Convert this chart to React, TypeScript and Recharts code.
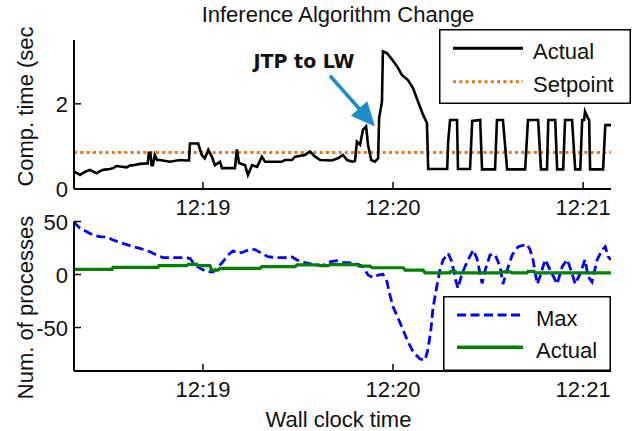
import React from 'react';
import { LineChart, Line, XAxis, YAxis, ReferenceLine, ReferenceDot, Legend } from 'recharts';

// ---------- data ----------
// time in seconds after 12:18:00
const timeTicks = [60, 120, 180];
const timeTickLabels = ['12:19', '12:20', '12:21'];
const timeDomain = [19.3, 188.8];

const compTicks = [0, 2];
const compDomain = [0, 3.5];
const setpointValue = 0.86;

const compTimes = [
  19.3, 20.5, 21.2, 22.7, 24.3, 26.4, 27.5, 28.5, 30.6, 31.7, 32.7, 35.9, 36.9, 38.0, 40.1, 42.2, 42.6, 42.9, 43.4, 43.8,
  44.2, 44.8, 45.5, 46.4, 49.6, 52.7, 54.8, 55.6, 55.9, 58.5, 59.6, 60.6, 61.7, 62.8, 63.8, 65.4, 66.0, 70.1, 70.7, 71.4,
  73.3, 74.2, 75.5, 77.1, 78.6, 79.6, 84.9, 85.9, 88.1, 89.1, 92.2, 93.8, 95.4, 97.0, 100.7, 102.6, 104.2, 105.5, 107.1, 108.0,
  108.6, 109.6, 110.5, 111.5, 112.1, 113.1, 114.3, 115.3, 115.6, 116.5, 116.8, 118.1, 119.7, 121.3, 122.8, 124.7, 126.3, 127.9, 129.5, 130.7,
  131.1, 137.1, 137.4, 138.0, 140.2, 140.5, 144.3, 145.0, 147.5, 148.1, 152.2, 152.8, 154.7, 156.0, 161.7, 162.6, 165.8, 166.7, 168.6, 169.0,
  171.2, 171.8, 173.7, 174.3, 176.5, 177.5, 179.1, 179.7, 180.3, 180.6, 181.3, 181.9, 182.2, 186.3, 187.0, 188.8,
];
const compActualValues = [
  0.41, 0.36, 0.33, 0.40, 0.45, 0.37, 0.42, 0.45, 0.47, 0.49, 0.54, 0.51, 0.55, 0.56, 0.59, 0.60, 0.60, 0.85, 0.85, 0.56,
  0.56, 0.80, 0.68, 0.68, 0.64, 0.68, 0.67, 0.67, 1.07, 1.07, 0.80, 0.72, 0.92, 0.76, 0.56, 0.64, 0.49, 0.49, 0.93, 0.61,
  0.56, 0.33, 0.56, 0.52, 0.76, 0.64, 0.64, 0.68, 0.68, 0.76, 0.80, 0.88, 0.76, 0.68, 0.67, 0.72, 0.80, 0.68, 0.64, 0.66,
  1.11, 1.04, 1.39, 1.47, 1.04, 0.68, 0.64, 0.72, 1.66, 2.05, 3.23, 3.19, 3.04, 2.88, 2.68, 2.56, 2.37, 2.05, 1.74, 1.55,
  0.47, 0.47, 1.11, 1.62, 1.62, 0.47, 0.47, 1.60, 1.62, 0.46, 0.46, 1.62, 1.62, 0.46, 0.46, 1.62, 1.62, 0.46, 0.46, 1.62,
  1.62, 0.46, 0.46, 1.62, 1.62, 0.46, 0.46, 1.62, 1.62, 1.82, 1.70, 1.62, 0.46, 0.46, 1.50, 1.50,
];

const procTicks = [-50, 0, 50];
const procDomain = [-91, 50];

const procMaxTimes = [
  19.3, 19.6, 21.2, 23.3, 25.3, 27.5, 29.6, 31.6, 34.7, 37.9, 40.1, 43.3, 45.4, 47.4, 53.7, 55.9, 57.5, 59.0, 61.2, 63.2,
  64.4, 66.3, 67.9, 69.5, 71.1, 72.6, 74.8, 76.4, 78.6, 80.5, 83.4, 85.9, 88.1, 89.7, 91.6, 94.4, 97.6, 100.1, 102.3, 104.2,
  106.4, 109.0, 110.5, 112.1, 113.7, 115.3, 116.8, 118.1, 119.0, 120.0, 121.6, 123.2, 124.7, 126.3, 128.5, 130.1, 131.1, 132.0, 132.6, 133.9,
  134.8, 135.8, 137.4, 138.6, 139.6, 140.5, 141.8, 143.4, 145.3, 146.5, 148.1, 149.1, 150.6, 152.2, 153.8, 154.7, 156.0, 157.6, 159.5, 162.3,
  163.3, 164.2, 165.5, 166.4, 168.0, 169.6, 171.8, 173.4, 175.0, 176.5, 177.5, 179.1, 180.6, 181.6, 182.8, 184.4, 186.0, 187.0, 187.9, 188.8,
];
const procMaxValues = [
  49.8, 48.3, 43.6, 40.4, 37.3, 35.7, 35.5, 32.5, 29.4, 26.2, 24.7, 21.5, 18.4, 15.9, 15.9, 15.3, 9.0, 6.0, 2.6, 2.6,
  5.8, 12.0, 18.4, 22.2, 20.0, 21.0, 23.8, 23.5, 20.0, 16.8, 15.9, 15.9, 16.5, 13.7, 11.5, 9.9, 8.3, 12.0, 13.0, 11.5,
  11.0, 9.6, 7.4, -0.5, -3.0, -0.5, 0.2, -6.8, -19.3, -30.4, -41.3, -52.4, -63.4, -72.8, -79.7, -80.7, -69.6, -50.8, -31.9, -9.9,
  4.2, 13.7, 20.0, 12.0, -3.6, -13.0, 1.1, 12.0, 23.1, 15.0, -8.3, 4.2, 18.4, 19.0, 7.4, -9.0, 4.0, 18.4, 26.2, 28.5,
  23.1, 13.7, -9.0, -2.0, 14.0, 4.2, -9.0, 7.4, 14.0, 1.1, -9.0, 1.0, 14.0, -2.0, -7.0, 13.7, 23.1, 26.2, 16.8, 14.0,
];

const procActualTimes = [
  19.3, 31.3, 31.6, 45.8, 46.1, 54.9, 55.3, 58.1, 58.4, 62.2, 62.8, 64.7, 65.4, 78.0, 78.6, 89.1, 89.7, 96.3, 97.0, 99.5,
  100.1, 108.6, 109.3, 112.7, 113.4, 123.2, 123.8, 129.5, 130.1, 138.0, 138.3, 139.6, 140.2, 153.8, 154.4, 157.0, 157.6, 162.3, 162.6, 164.5,
  164.8, 188.8,
];
const procActualValues = [
  4.9, 4.9, 6.8, 6.8, 8.3, 8.3, 9.6, 9.6, 8.3, 8.3, 4.2, 4.2, 5.8, 5.8, 7.4, 7.4, 9.0, 9.0, 8.3, 8.3,
  9.3, 9.3, 8.0, 8.0, 6.4, 6.4, 4.2, 4.2, 1.5, 1.5, 3.0, 3.0, 1.5, 1.5, 2.5, 2.5, 1.5, 1.5, 3.0, 3.0,
  1.5, 1.5,
];

// annotation (data coordinates)
const annotationText = 'JTP to LW';
const annotationTextPos = { t: 91.9, v: 2.85 };
const arrowFrom = { t: 100.1, v: 2.66 };
const arrowTo = { t: 114.3, v: 1.47 };

// ---------- style ----------
const FONT = '"Liberation Sans", Arial, Helvetica, sans-serif';
const FS = 22;
const TEXT = '#111';
const W = 641;
const H = 431;
const TICK = 7;
const BLACK = '#000000';
const ORANGE = '#E8751A';
const BLUE = '#0000FF';
const GREEN = '#008000';
const ARROW = '#1E8CC8';

const build = (times: number[], values: number[]) => times.map((t, i) => ({ t, v: values[i] }));
const compActualData = build(compTimes, compActualValues);
const setpointData = build(timeDomain, [setpointValue, setpointValue]);
const procMaxData = build(procMaxTimes, procMaxValues);
const procActualData = build(procActualTimes, procActualValues);

const fmtTime = (v: number) => {
  const i = timeTicks.indexOf(v);
  return i >= 0 ? timeTickLabels[i] : '';
};

const XBottomTick = (props: any) => {
  const { x, y, payload } = props;
  return (
    <g>
      <line x1={x} x2={x} y1={y} y2={y - TICK} stroke={BLACK} strokeWidth={1.5} />
      <text x={x} y={y + 25.5} textAnchor="middle" fontFamily={FONT} fontSize={FS} fill={TEXT}>
        {fmtTime(payload.value)}
      </text>
    </g>
  );
};
const XTopTick = (props: any) => {
  const { x, y } = props;
  return <line x1={x} x2={x} y1={y} y2={y + TICK} stroke={BLACK} strokeWidth={1.5} />;
};
const YLeftTick = (props: any) => {
  const { x, y, payload } = props;
  return (
    <g>
      <line x1={x} x2={x + TICK} y1={y} y2={y} stroke={BLACK} strokeWidth={1.5} />
      <text x={x - 6} y={y + 8} textAnchor="end" fontFamily={FONT} fontSize={FS} fill={TEXT}>
        {String(payload.value)}
      </text>
    </g>
  );
};
const YRightTick = (props: any) => {
  const { x, y } = props;
  return <line x1={x} x2={x - TICK} y1={y} y2={y} stroke={BLACK} strokeWidth={1.5} />;
};

const Arrow = (props: any) => {
  const { x1, y1, x2, y2 } = props;
  const dx = x2 - x1;
  const dy = y2 - y1;
  const len = Math.hypot(dx, dy) || 1;
  const ux = dx / len;
  const uy = dy / len;
  const headLen = 24;
  const headW = 11;
  const bx = x2 - ux * headLen;
  const by = y2 - uy * headLen;
  const px = -uy;
  const py = ux;
  return (
    <g>
      <line x1={x1} y1={y1} x2={bx + ux * 2} y2={by + uy * 2} stroke={ARROW} strokeWidth={3.5} />
      <polygon
        points={`${x2},${y2} ${bx + px * headW},${by + py * headW} ${bx - px * headW},${by - py * headW}`}
        fill={ARROW}
      />
    </g>
  );
};
const AnnotationText = (props: any) => {
  const { cx, cy } = props;
  return (
    <text x={cx} y={cy} textAnchor="middle" fontFamily='"DejaVu Sans", Verdana, sans-serif' fontWeight="bold" fontSize={19} fill={TEXT}>
      {annotationText}
    </text>
  );
};

type Item = { label: string; color: string; dash?: string; width: number };
const LegendBox = ({ w, h, items, x1, x2, tx, rows }: { w: number; h: number; items: Item[]; x1: number; x2: number; tx: number; rows: number[] }) => (
  <svg width={w} height={h} style={{ display: 'block' }}>
    <rect x={0.75} y={0.75} width={w - 1.5} height={h - 1.5} fill="#fff" stroke={BLACK} strokeWidth={1.5} />
    {items.map((it, i) => (
      <g key={it.label}>
        <line x1={x1} x2={x2} y1={rows[i]} y2={rows[i]} stroke={it.color} strokeWidth={it.width} strokeDasharray={it.dash} />
        <text x={tx} y={rows[i] + 10.5} fontFamily={FONT} fontSize={FS} fill={TEXT}>
          {it.label}
        </text>
      </g>
    ))}
  </svg>
);

const topItems: Item[] = [
  { label: 'Actual', color: BLACK, width: 3 },
  { label: 'Setpoint', color: ORANGE, dash: '3 3.3', width: 3 },
];
const bottomItems: Item[] = [
  { label: 'Max', color: BLUE, dash: '9 4.5', width: 3 },
  { label: 'Actual', color: GREEN, width: 3.5 },
];

const axisLine = { stroke: BLACK, strokeWidth: 2 };

export default function App() {
  return (
    <div style={{ position: 'absolute', left: 0, top: 0, width: W, height: H, background: '#fff' }}>
      <div style={{ position: 'absolute', left: 0, top: 0 }}>
        <LineChart width={W} height={H} margin={{ top: 40, right: 30, bottom: 216, left: 14 }}>
          <XAxis xAxisId={0} dataKey="t" type="number" domain={timeDomain} allowDataOverflow ticks={timeTicks} interval={0}
            tickSize={0} tickMargin={0} tickLine={false} axisLine={axisLine} tick={<XBottomTick />} height={26} />
          <XAxis xAxisId="top" orientation="top" dataKey="t" type="number" domain={timeDomain} allowDataOverflow ticks={timeTicks} interval={0}
            tickSize={0} tickMargin={0} tickLine={false} axisLine={axisLine} tick={<XTopTick />} height={0} />
          <YAxis yAxisId={0} type="number" domain={compDomain} allowDataOverflow ticks={compTicks} interval={0}
            tickSize={0} tickMargin={0} tickLine={false} axisLine={axisLine} tick={<YLeftTick />} width={60} />
          <YAxis yAxisId="right" orientation="right" type="number" domain={compDomain} allowDataOverflow ticks={compTicks} interval={0}
            tickSize={0} tickMargin={0} tickLine={false} axisLine={axisLine} tick={<YRightTick />} width={0} />
          <Line data={setpointData} dataKey="v" name="Setpoint" type="linear" dot={false} stroke={ORANGE} strokeWidth={3}
            strokeDasharray="3 3.3" isAnimationActive={false} />
          <Line data={compActualData} dataKey="v" name="Actual" type="linear" dot={false} stroke={BLACK} strokeWidth={2.6}
            isAnimationActive={false} />
          <ReferenceLine segment={[{ x: arrowFrom.t, y: arrowFrom.v }, { x: arrowTo.t, y: arrowTo.v }]} shape={Arrow} />
          <ReferenceDot x={annotationTextPos.t} y={annotationTextPos.v} r={1} shape={AnnotationText} />
          <Legend layout="vertical" align="center" verticalAlign="middle"
            wrapperStyle={{ left: 439, top: 29, width: 192, height: 75 }}
            content={() => <LegendBox w={192} h={75} items={topItems} x1={14} x2={84} tx={94} rows={[19.3, 52.7]} />} />
        </LineChart>
      </div>
      <div style={{ position: 'absolute', left: 0, top: 0 }}>
        <LineChart width={W} height={H} margin={{ top: 221.5, right: 30, bottom: 34, left: 14 }}>
          <XAxis xAxisId={0} dataKey="t" type="number" domain={timeDomain} allowDataOverflow ticks={timeTicks} interval={0}
            tickSize={0} tickMargin={0} tickLine={false} axisLine={axisLine} tick={<XBottomTick />} height={26} />
          <XAxis xAxisId="top" orientation="top" dataKey="t" type="number" domain={timeDomain} allowDataOverflow ticks={timeTicks} interval={0}
            tickSize={0} tickMargin={0} tickLine={false} axisLine={axisLine} tick={<XTopTick />} height={0} />
          <YAxis yAxisId={0} type="number" domain={procDomain} allowDataOverflow ticks={procTicks} interval={0}
            tickSize={0} tickMargin={0} tickLine={false} axisLine={axisLine} tick={<YLeftTick />} width={60} />
          <YAxis yAxisId="right" orientation="right" type="number" domain={procDomain} allowDataOverflow ticks={procTicks} interval={0}
            tickSize={0} tickMargin={0} tickLine={false} axisLine={axisLine} tick={<YRightTick />} width={0} />
          <Line data={procMaxData} dataKey="v" name="Max" type="linear" dot={false} stroke={BLUE} strokeWidth={2.8}
            strokeDasharray="9 4.5" isAnimationActive={false} />
          <Line data={procActualData} dataKey="v" name="Actual" type="linear" dot={false} stroke={GREEN} strokeWidth={3.2}
            isAnimationActive={false} />
          <Legend layout="vertical" align="center" verticalAlign="middle"
            wrapperStyle={{ left: 443, top: 296, width: 168, height: 75 }}
            content={() => <LegendBox w={168} h={75} items={bottomItems} x1={14} x2={80} tx={93} rows={[19, 51.3]} />} />
        </LineChart>
      </div>
      <svg width={W} height={H} style={{ position: 'absolute', left: 0, top: 0, pointerEvents: 'none' }}>
        <text x={338} y={21.5} textAnchor="middle" fontFamily={FONT} fontSize={FS} fill={TEXT}>Inference Algorithm Change</text>
        <text transform="translate(33,106.5) rotate(-90)" textAnchor="middle" fontFamily={FONT} fontSize={FS} fill={TEXT}>Comp. time (sec</text>
        <text transform="translate(33,307.5) rotate(-90)" textAnchor="middle" fontFamily={FONT} fontSize={FS} fill={TEXT}>Num. of processes</text>
        <text x={338.5} y={427} textAnchor="middle" fontFamily={FONT} fontSize={FS} fill={TEXT}>Wall clock time</text>
      </svg>
    </div>
  );
}
